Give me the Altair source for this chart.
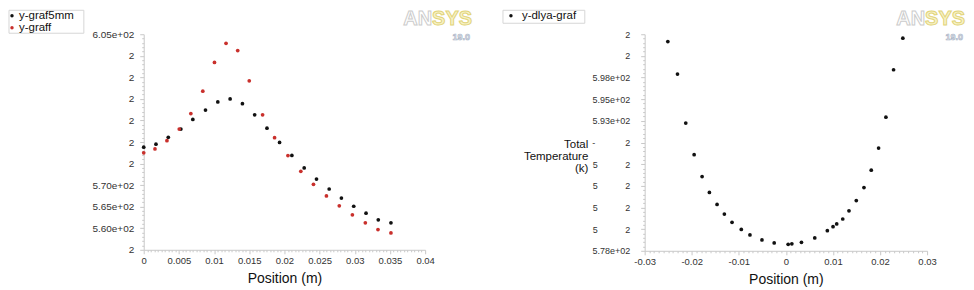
import json
import altair as alt
import pandas as pd

FONT = "Liberation Sans, Arial, sans-serif"
NB = "\u00a0"

# ---------------- data ----------------
series_left = ["y-graf5mm", "y-graff"]
colors_left = ["#111111", "#c9302c"]
series_right = ["y-dlya-graf"]
color_right = "#111111"

lx_black = [0.0, 0.00174, 0.00349, 0.00528, 0.00698, 0.00878, 0.01053, 0.01228, 0.01403, 0.01577,
            0.01752, 0.01931, 0.02106, 0.02281, 0.02456, 0.02636, 0.0281, 0.02985, 0.0316, 0.03334, 0.03514]
ly_black = [578.8, 579.5, 581.1, 583.0, 585.25, 587.4, 589.3, 590.0, 588.9, 586.3,
            583.2, 579.9, 576.9, 574.0, 571.4, 569.1, 567.0, 565.1, 563.5, 561.95, 561.25]
lx_red = [0.0, 0.0016, 0.0033, 0.00505, 0.0067, 0.0084, 0.01006, 0.0117, 0.01336, 0.0150,
          0.0169, 0.0186, 0.0205, 0.02233, 0.02413, 0.02597, 0.0278, 0.02966, 0.0315, 0.0333, 0.03514]
ly_red = [577.5, 578.4, 580.3, 583.0, 586.6, 591.8, 598.45, 602.9, 601.2, 594.2,
          586.3, 581.0, 576.85, 573.2, 570.2, 567.5, 565.2, 563.1, 561.25, 559.7, 558.9]

rx = [-0.02508, -0.02303, -0.02127, -0.01949, -0.0178, -0.01625, -0.01462, -0.01307, -0.01144, -0.00947,
      -0.00763, -0.00508, -0.00248, 0.00049, 0.00127, 0.00331, 0.00614, 0.00881, 0.01002, 0.0108,
      0.01208, 0.01341, 0.01496, 0.01659, 0.01814, 0.0197, 0.02125, 0.02288, 0.02485]
ry = [602.16, 598.4, 592.74, 589.1, 586.57, 584.73, 583.35, 582.24, 581.28, 580.47,
      579.83, 579.25, 578.9, 578.75, 578.8, 578.98, 579.48, 580.32, 580.78, 581.1,
      581.67, 582.62, 583.8, 585.3, 587.3, 589.86, 593.43, 598.9, 602.54]

left_x_labels = ["0", "0.005", "0.01", "0.015", "0.02", "0.025", "0.03", "0.035", "0.04"]
left_y_labels = ["6.05e+02", "2", "2", "2", "2", "2", "2", "5.70e+02", "5.65e+02", "5.60e+02", "2"]
right_x_labels = ["-0.03", "-0.02", "-0.01", "0", "0.01", "0.02", "0.03"]
right_y_labels = (["2", "2", "5.98e+02", "5.95e+02", "5.93e+02", "-" + NB * 12 + "2"]
                  + ["5" + NB * 11 + "2"] * 4 + ["5.78e+02"])
x_title = "Position (m)"
right_y_title = ["Total", "Temperature", "(k)"]
logo_parts = ["AN", "SYS", "19.0"]


def axis_values(lo, hi, major, minor, labels, from_top, **kw):
    n = int(round((hi - lo) / minor))
    vals = [round(lo + i * minor, 6) for i in range(n + 1)]
    k = f"((datum.value - ({lo})) / {major})"
    test = f"abs({k} - round({k})) < 0.01"
    idx = f"round((({hi}) - datum.value) / {major})" if from_top else f"round({k})"
    arr = "[" + ",".join(json.dumps(s, ensure_ascii=False) for s in labels) + "]"
    return alt.Axis(
        values=vals,
        labelExpr=f"{test} ? {arr}[{idx}] : ''",
        tickSize={"condition": {"test": test, "value": 4}, "value": 2},
        labelOverlap=False,
        labelFlush=False,
        grid=False,
        **kw,
    )


def bound_rect(x0, x1, y0, y1):
    return alt.Chart(pd.DataFrame({"b": [0]})).mark_rect(opacity=0).encode(
        x=alt.value(x0), x2=alt.value(x1), y=alt.value(y0), y2=alt.value(y1))


def legend_layers(names, colors, box, dot_x, text_x, ys):
    layers = [alt.Chart(pd.DataFrame({"b": [0]})).mark_rect(
        fill="white", stroke="#d6d6d6", strokeWidth=1).encode(
        x=alt.value(box[0]), x2=alt.value(box[1]), y=alt.value(box[2]), y2=alt.value(box[3]))]
    for name, col, yy in zip(names, colors, ys):
        d = pd.DataFrame({"series": [name]})
        layers.append(alt.Chart(d).mark_circle(size=12, opacity=1, color=col).encode(
            x=alt.value(dot_x), y=alt.value(yy)))
        layers.append(alt.Chart(d).mark_text(
            align="left", baseline="middle", fontSize=11.5, font=FONT, color="#111111").encode(
            x=alt.value(text_x), y=alt.value(yy), text="series:N"))
    return layers


def logo_layers(split_x, right_x):
    d = pd.DataFrame({"t": logo_parts})
    an = alt.Chart(d).transform_filter(alt.datum.t == logo_parts[0]).mark_text(
        align="right", baseline="alphabetic", fontSize=20, fontWeight="bold", font=FONT,
        fill="white", stroke="#cccccc", strokeWidth=1).encode(
        x=alt.value(split_x), y=alt.value(-9.5), text="t:N")
    sys_ = alt.Chart(d).transform_filter(alt.datum.t == logo_parts[1]).mark_text(
        align="left", baseline="alphabetic", fontSize=20, fontWeight="bold", font=FONT,
        fill="#f7f2c8", stroke="#e2d47a", strokeWidth=1).encode(
        x=alt.value(split_x), y=alt.value(-9.5), text="t:N")
    ver = alt.Chart(d).transform_filter(alt.datum.t == logo_parts[2]).mark_text(
        align="right", baseline="alphabetic", fontSize=9, fontWeight="bold", font=FONT,
        fill="#e8ecf2", stroke="#a8b2c4", strokeWidth=0.6).encode(
        x=alt.value(right_x), y=alt.value(5.5), text="t:N")
    return [an, sys_, ver]


title_kw = dict(title=x_title, titleFontSize=14, titleFontWeight="normal", titleColor="#111111",
                titleY=33, titleBaseline="alphabetic", labelFontSize=9.5, labelPadding=2)

# ---------------- left panel ----------------
df_left = pd.DataFrame({
    "x": lx_black + lx_red,
    "y": ly_black + ly_red,
    "series": [series_left[0]] * len(lx_black) + [series_left[1]] * len(lx_red),
})

left_points = alt.Chart(df_left).mark_circle(size=14, opacity=1).encode(
    x=alt.X("x:Q", scale=alt.Scale(domain=[0, 0.04], nice=False, zero=False),
            axis=axis_values(0, 0.04, 0.005, 0.0005, left_x_labels, False, **title_kw)),
    y=alt.Y("y:Q", scale=alt.Scale(domain=[555, 605], nice=False, zero=False),
            axis=axis_values(555, 605, 5, 1, left_y_labels, True, title=None,
                             labelFontSize=10, labelPadding=6)),
    color=alt.Color("series:N", scale=alt.Scale(domain=series_left, range=colors_left), legend=None),
)

left = alt.layer(
    bound_rect(-135, 347, -24, 216),
    left_points,
    *legend_layers(series_left, colors_left, (-135, -60, -24, -1), -132, -125, [-18.5, -6.5]),
    *logo_layers(289, 327),
).properties(width=282, height=216)

# ---------------- right panel ----------------
df_right = pd.DataFrame({"x": rx, "y": ry, "series": [series_right[0]] * len(rx)})

right_points = alt.Chart(df_right).mark_circle(size=14, opacity=1, color=color_right).encode(
    x=alt.X("x:Q", scale=alt.Scale(domain=[-0.03, 0.03], nice=False, zero=False),
            axis=axis_values(-0.03, 0.03, 0.01, 0.001, right_x_labels, False, **title_kw)),
    y=alt.Y("y:Q", scale=alt.Scale(domain=[578, 603], nice=False, zero=False),
            axis=axis_values(578, 603, 2.5, 0.5, right_y_labels, True,
                             title=right_y_title, titleAngle=0, titleAlign="right",
                             titleBaseline="alphabetic", titleX=-57, titleY=113,
                             titleFontSize=11.5, titleFontWeight="normal", titleColor="#111111",
                             titleLineHeight=12.5, labelFontSize=9, labelPadding=11)),
)

right = alt.layer(
    bound_rect(-155, 321, -24, 217),
    right_points,
    *legend_layers(series_right, [color_right], (-142, -60, -24, -11), -134, -123, [-18.5]),
    *logo_layers(281, 319),
).properties(width=283, height=217)

chart = alt.hconcat(left, right, spacing=0).properties(padding=0).configure_view(
    strokeWidth=0
).configure_axis(
    domainColor="#c8c8c8", tickColor="#c8c8c8", labelColor="#333333",
    labelFont=FONT, titleFont=FONT,
)

chart.save("out.html", embed_options={"renderer": "svg", "actions": False})
